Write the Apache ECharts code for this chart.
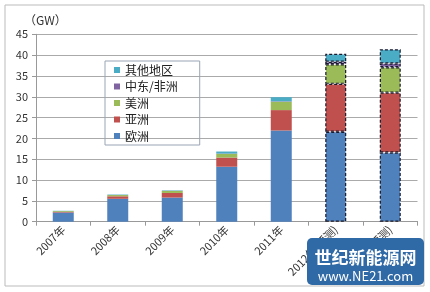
<!DOCTYPE html>
<html><head><meta charset="utf-8">
<script src="https://cdn.jsdelivr.net/npm/echarts@6/dist/echarts.min.js"></script>
<style>html,body{margin:0;padding:0;background:#fff}#c{width:430px;height:292px}</style>
</head><body><div id="c"></div>
<script>
const categories = ['2007年','2008年','2009年','2010年','2011年','2012年(预测)','2013年(预测)'];
const europe   = [2.2, 5.5, 5.8, 13.2, 21.9, 21.6, 16.6];
const asia     = [0.15, 0.6, 1.1, 2.2, 4.9, 11.5, 14.4];
const americas = [0.2, 0.3, 0.5, 0.9, 2.0, 4.7, 6.1];
const mea      = [0.02, 0.02, 0.03, 0.05, 0.1, 0.6, 0.9];
const others   = [0.05, 0.1, 0.1, 0.5, 1.0, 1.9, 3.4];
const forecastFrom = 5;
const yTicks = [0,5,10,15,20,25,30,35,40,45];

const font = '"Noto Sans CJK SC", "Noto Sans", sans-serif';
function mk(name, vals, color){
  return {
    name, type:'bar', stack:'t', barWidth:21,
    itemStyle:{color},
    data: vals.map((v,i)=> i>=forecastFrom ? {value:v, itemStyle:{borderColor:'#1a1a2e', borderWidth:1.2, borderType:[3,2]}} : v)
  };
}
const chart = echarts.init(document.getElementById('c'));
chart.setOption({
  animation:false,
  textStyle:{fontFamily:font},
  grid:{left:36, right:12.5, top:34.3, bottom:70.3, containLabel:false},
  legend:{
    data:['其他地区','中东/非洲','美洲','亚洲','欧洲'],
    orient:'vertical', left:105, top:61, width:94,
    itemWidth:6, itemHeight:6, itemGap:4.5,
    padding:[3,22,3,9],
    borderColor:'#9aa5b5', borderWidth:1,
    textStyle:{fontSize:12, color:'#222', fontFamily:font, lineHeight:12},
    icon:'rect'
  },
  xAxis:{
    type:'category', data:categories,
    axisLine:{lineStyle:{color:'#999'}},
    axisTick:{show:true, length:4, lineStyle:{color:'#999'}},
    axisLabel:{rotate:45, fontSize:11, color:'#333', margin:6, interval:0}
  },
  yAxis:{
    type:'value', min:yTicks[0], max:yTicks[yTicks.length-1], interval:5,
    axisLine:{show:true, lineStyle:{color:'#999'}},
    axisTick:{show:true, length:4, lineStyle:{color:'#999'}},
    axisLabel:{fontSize:11, color:'#333', margin:8},
    splitLine:{lineStyle:{color:'#aaa'}}
  },
  graphic:[
    {type:'rect', shape:{x:5, y:5, width:419, height:281}, style:{fill:'none', stroke:'#bbb', lineWidth:1}, silent:true, z:-1},
    {type:'text', left:24, top:14, style:{text:'（GW）', fontSize:12, fill:'#333', fontFamily:font}},
    {type:'rect', shape:{x:307, y:238, width:117, height:47, r:5}, style:{fill:'#2f69a6'}, z:100},
    {type:'text', x:365.5, y:258, style:{text:'世纪新能源网', fontSize:17, fontWeight:'bold', fill:'#fff', align:'center', verticalAlign:'middle', fontFamily:font}, z:101},
    {type:'text', x:365.5, y:276, style:{text:'www.NE21.com', fontSize:13, fill:'#fff', align:'center', verticalAlign:'middle', fontFamily:font}, z:101}
  ],
  series:[
    mk('欧洲', europe, '#4f81bd'),
    mk('亚洲', asia, '#c0504d'),
    mk('美洲', americas, '#9bbb59'),
    mk('中东/非洲', mea, '#8064a2'),
    mk('其他地区', others, '#4bacc6')
  ]
});
</script></body></html>
